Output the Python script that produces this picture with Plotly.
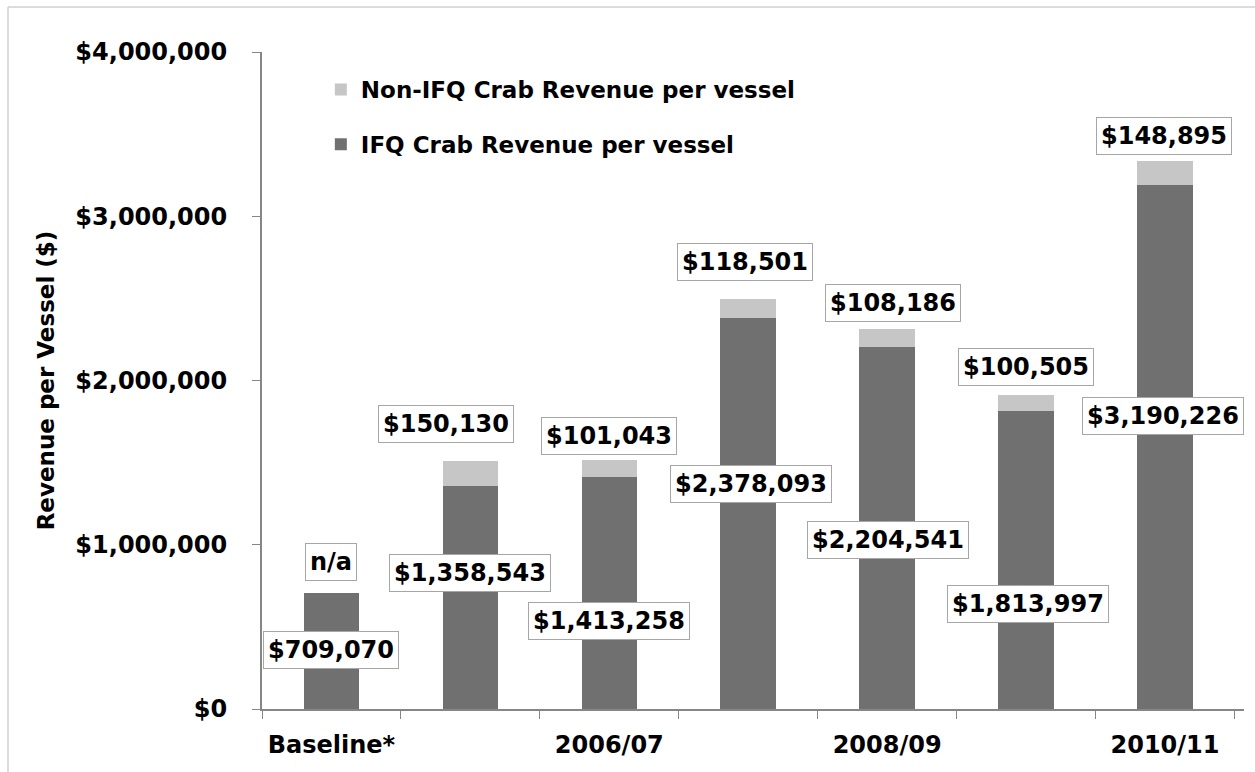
import plotly.graph_objects as go

# Revenue per vessel by season (stacked: IFQ crab + non-IFQ crab)
seasons = ["Baseline*", "2005/06", "2006/07", "2007/08", "2008/09", "2009/10", "2010/11"]
ifq_revenue = [709070, 1358543, 1413258, 2378093, 2204541, 1813997, 3190226]
non_ifq_revenue = [None, 150130, 101043, 118501, 108186, 100505, 148895]
shown_tick_labels = ["Baseline*", "", "2006/07", "", "2008/09", "", "2010/11"]
y_ticks = [0, 1000000, 2000000, 3000000, 4000000]

DARK = "#707070"
LIGHT = "#c6c6c6"
FONT = "DejaVu Sans"

# Label placement (pixel offsets from the top of each segment)
ifq_label_dx = [0, 0, 0, 3, 1, 2, -2]
ifq_label_dy = [-57, -87, -144, -166, -193, -193, -231]
non_label_dx = [0, -24, 0, -3, 6, 0, -1]
non_label_dy = [31, 37, 24, 37, 26, 28, 25]

fig = go.Figure()
fig.add_trace(go.Bar(
    x=seasons, y=ifq_revenue, name="IFQ Crab Revenue per vessel",
    marker=dict(color=DARK, line=dict(width=0)),
    legendgroup="ifq", legendrank=2,
))
fig.add_trace(go.Bar(
    x=seasons, y=[v if v is not None else 0 for v in non_ifq_revenue],
    name="Non-IFQ Crab Revenue per vessel",
    marker=dict(color=LIGHT, line=dict(width=0)),
    legendgroup="non", legendrank=1,
))

box = dict(bgcolor="white", bordercolor="#a6a6a6", borderwidth=1, borderpad=4,
           font=dict(family=FONT, size=24, color="black"), showarrow=False)

for i, s in enumerate(seasons):
    ifq = ifq_revenue[i]
    fig.add_annotation(x=s, y=ifq, text=f"${ifq:,}",
                       xshift=ifq_label_dx[i], yshift=ifq_label_dy[i], **box)
    non = non_ifq_revenue[i]
    total = ifq + (non or 0)
    fig.add_annotation(x=s, y=total, text=("n/a" if non is None else f"${non:,}"),
                       xshift=non_label_dx[i], yshift=non_label_dy[i], **box)

W, H = 1255, 772
L, R, T, B = 262, 11, 52, 63
PLOT_W = 968  # intended plot-area width in pixels

# Outer frame lines (top and left), placed in pixels from the plot's lower-left corner
line_style = dict(color="#d0d0d0", width=1.5)
frame_left = 8 - L
frame_top = (H - B) - 7
fig.add_shape(type="line", xref="paper", yref="paper",
              xsizemode="pixel", ysizemode="pixel", xanchor=0, yanchor=0,
              x0=frame_left, x1=W, y0=frame_top, y1=frame_top, line=line_style)
fig.add_shape(type="line", xref="paper", yref="paper",
              xsizemode="pixel", ysizemode="pixel", xanchor=0, yanchor=0,
              x0=frame_left, x1=frame_left, y0=frame_top, y1=-B, line=line_style)

fig.update_layout(
    width=W, height=H, autosize=False,
    margin=dict(l=L, r=R, t=T, b=B, autoexpand=False),
    paper_bgcolor="white", plot_bgcolor="white",
    barmode="stack", bargap=0.6,
    font=dict(family=FONT, size=24, color="black", weight="bold"),
    showlegend=True,
    legend=dict(
        x=(320 - L) / PLOT_W, y=(H - B - 68) / (H - T - B), xanchor="left", yanchor="top",
        traceorder="grouped", tracegroupgap=22,
        font=dict(family=FONT, size=23, color="black", weight="bold"),
        bgcolor="rgba(0,0,0,0)",
    ),
    xaxis=dict(
        type="category", tickmode="array", tickvals=seasons, ticktext=shown_tick_labels,
        tickson="boundaries", ticks="outside", ticklen=8, tickcolor="#868686",
        showline=True, linecolor="#868686", linewidth=2,
        showgrid=False, zeroline=False, tickangle=0, automargin=False,
        tickfont=dict(family=FONT, size=24, color="black", weight="bold"),
        ticklabelstandoff=13,
    ),
    yaxis=dict(
        range=[0, 4000000], tickmode="array", tickvals=y_ticks,
        ticktext=[f"${v:,}" for v in y_ticks],
        ticks="outside", ticklen=8, tickcolor="#868686",
        showline=True, linecolor="#868686", linewidth=2,
        showgrid=False, zeroline=False, automargin=False,
        tickfont=dict(family=FONT, size=24, color="black", weight="bold"),
        ticklabelstandoff=20,
        title=dict(text="Revenue per Vessel ($)", standoff=14,
                   font=dict(family=FONT, size=23, color="black", weight="bold")),
    ),
)

fig.write_html("out.html", config={"responsive": False})
